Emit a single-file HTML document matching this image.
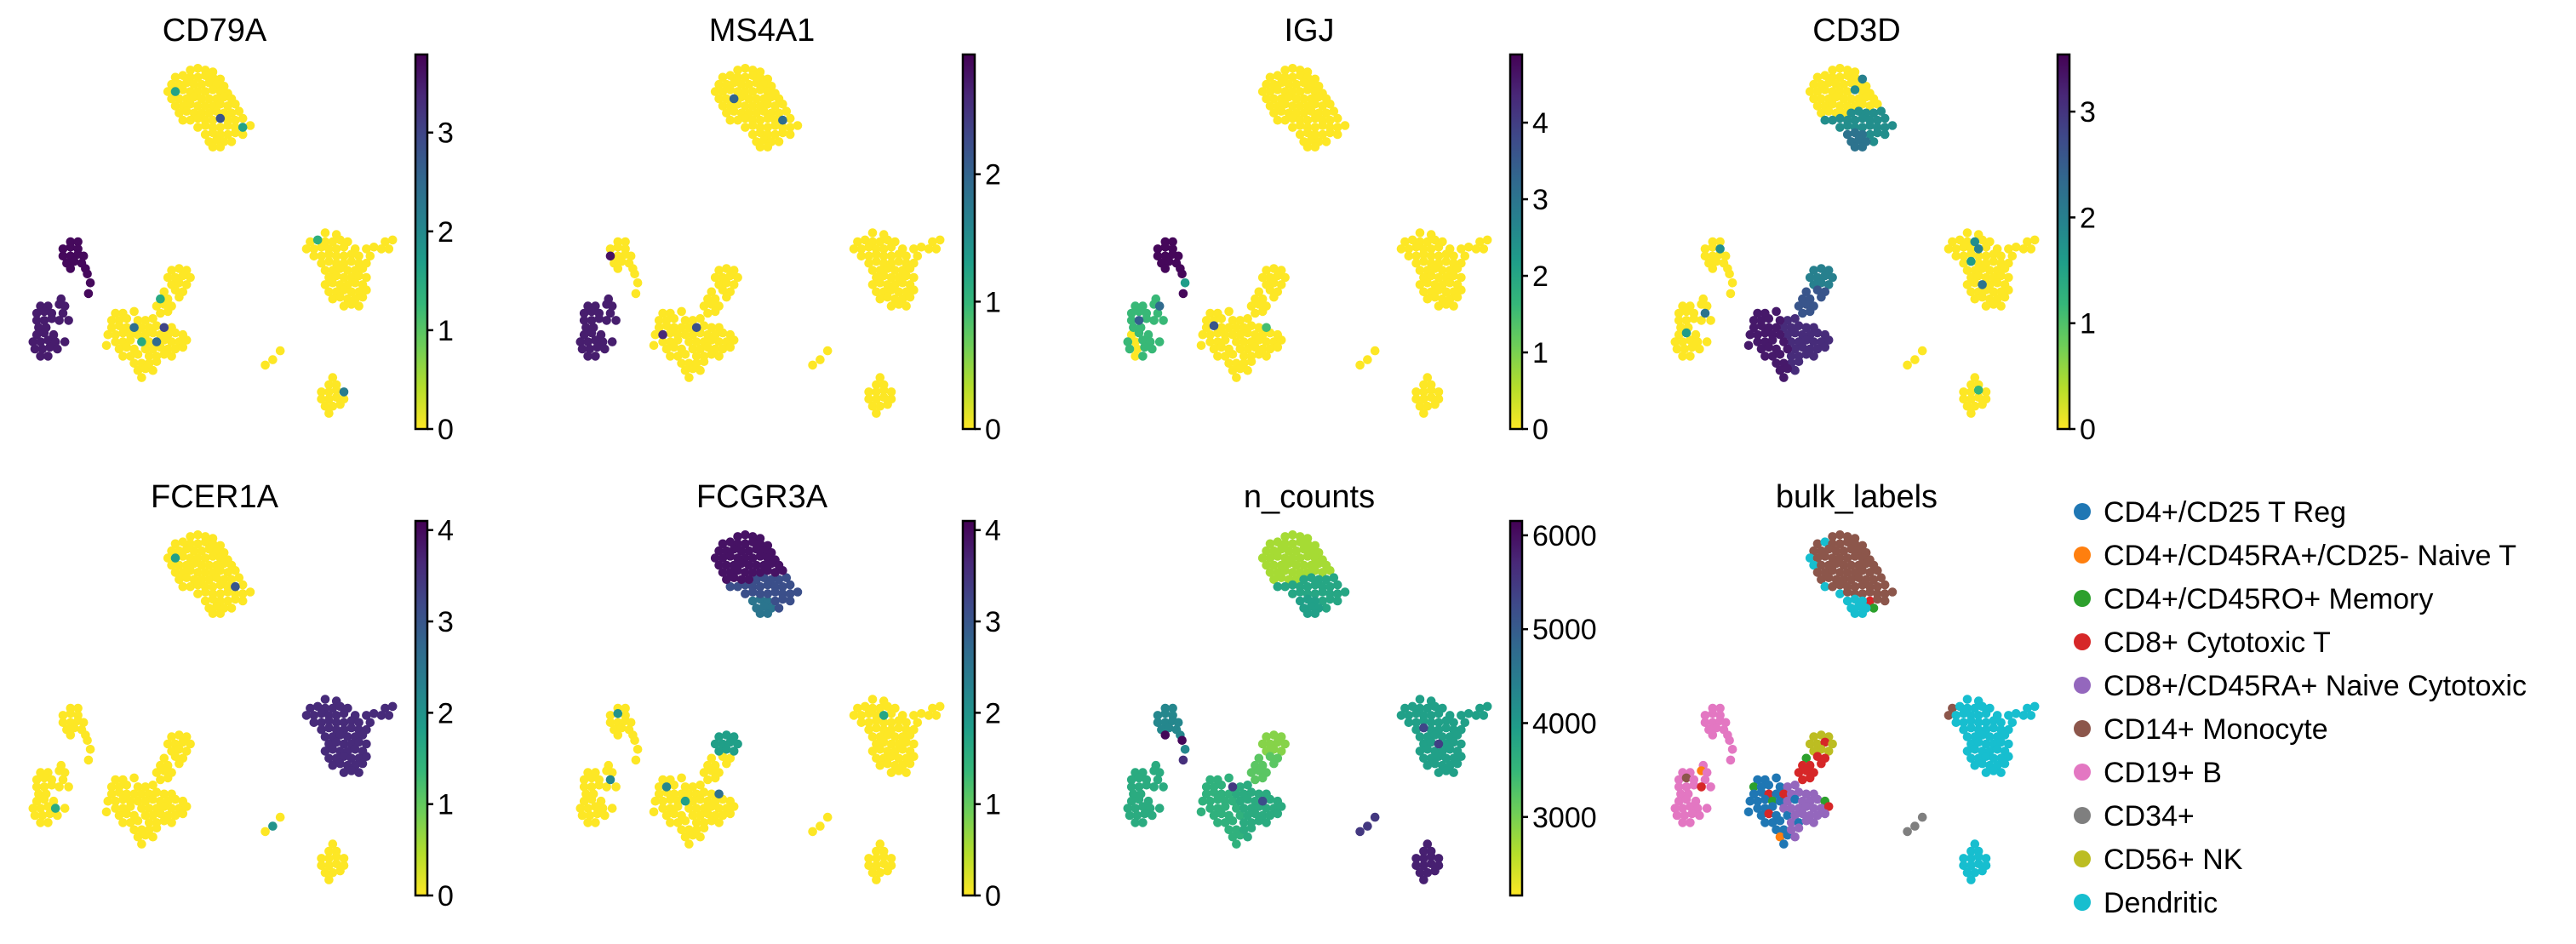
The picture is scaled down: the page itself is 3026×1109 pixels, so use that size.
<!DOCTYPE html>
<html><head><meta charset="utf-8">
<style>
html,body{margin:0;padding:0;background:#fff;}
svg{display:block;font-family:"Liberation Sans",Arial,sans-serif;}
</style></head>
<body>
<svg id="fig" width="3026" height="1109" viewBox="0 0 3026 1109" xmlns="http://www.w3.org/2000/svg"></svg>
<script>
// ---- embedding points (UMAP coordinates, 0..100 units), one array per sub-cluster ----
const ptsMonoA = [[44,98],[46,98.5],[48,98],[50,97.5],[40,96],[42,96.5],[44,96],[46,96],[48,96.5],[50,96],[52,95.5],[39,94],[41,94],[43,94.5],[45,94],[47,94],[49,94.5],[51,94],[53,93.5],[38,92],[40,92],[42,92.5],[44,92],[46,92],[48,92],[50,92.5],[52,92],[54,91.5],[39,90],[41,90],[43,90],[45,90.5],[47,90],[49,90],[51,90],[53,90.5],[55,90],[40,88],[42,88],[44,88.5],[46,88],[48,88],[50,88],[52,88.5],[54,88],[56,88.5],[41,86],[43,86.5],[45,86],[47,86]];
const ptsMonoB = [[49,86],[51,86.5],[53,86],[55,86],[57,86.5],[42,84],[44,84],[46,84.5],[48,84],[50,84],[52,84.5],[54,84],[56,84],[58,84.5],[46,82],[48,82.5],[50,82],[52,82],[54,82.5],[56,82],[58,82],[60,82.5],[54,80],[56,80.5],[58,80],[55,78]];
const ptsMonoDC = [[48,80],[50,80.5],[52,80],[49,78],[51,78.5],[53,78],[50,76.5],[52,76.5]];
const ptsDC = [[80,52.5],[83,52],[76,50],[78,50.5],[80,50],[82,50],[84,50.5],[86,50],[96,50],[98,50.5],[75,48],[77,48],[79,48.5],[81,48],[83,48],[85,48.5],[88,48],[91,48],[93,48.5],[95,48],[97,48],[77,46],[79,46],[81,46.5],[83,46],[85,46],[87,46.5],[89,46],[92,46],[79,44],[81,44.5],[83,44],[85,44],[87,44.5],[89,44],[91,44],[80,42],[82,42],[84,42.5],[86,42],[88,42],[90,42.5],[81,40],[83,40.5],[85,40],[87,40],[89,40.5],[91,40],[80,38],[82,38.5],[84,38],[86,38],[88,38.5],[90,38],[81,36],[83,36],[85,36.5],[87,36],[89,36],[91,36.5],[82,34],[84,34.5],[86,34],[88,34],[90,34.5],[85,32],[87,32.5],[89,32]];
const ptsDC2 = [[82,12],[81,10],[83,10],[79,8],[81,8],[83,8.5],[85,8],[79,6],[81,6],[83,6.5],[85,6],[80,4],[82,4],[84,4.5],[81,2]];
const ptsCD34 = [[64,15.5],[66,17],[68,19.5]];
const ptsBup = [[12,50],[14,50],[10,48],[12,48.5],[14,48],[10,46],[12,46],[14,46.5],[15.5,46],[11,44],[13,44.5],[15,44],[12,42.5],[16,42.5],[16.5,41],[17.3,38.5],[16.8,35.5]];
const ptsBlo = [[9.5,34],[4,32],[6,32],[9,32.5],[10.5,32],[3,30],[5,30.5],[7,30],[10,30],[3,28],[5,28],[7,28.5],[9,28],[11.5,28],[3.5,26],[5.5,26],[3,24],[5,24.5],[7.5,24],[2,22],[4,22],[6,22.5],[8,22],[10.5,22],[2.5,20],[4.5,20],[6.5,20.5],[8.5,20],[4,18],[6,18]];
const ptsTBlue = [[24,30],[26,30],[29,30.5],[23,28],[25,28],[27,28.5],[30,28],[23,26],[25,26.5],[27,26],[29,26],[22,24],[24,24],[26,24.5],[28,24],[30,24],[21.6,21],[24,22],[26,22],[28,22.5],[31,22],[25,20],[27,20.5],[29,20],[32,20],[26,18],[28,18],[30,18.5],[29,16],[31,16],[30,14],[32,14.5],[31,12]];
const ptsTPurple = [[32,28],[34,28.5],[31,26],[33,26],[35,26.5],[37,26],[39,26],[32,24],[34,24.5],[36,24],[38,24],[40,24.5],[42,24],[33,22],[35,22],[37,22.5],[39,22],[41,22],[43,22.5],[34,20],[36,20.5],[38,20],[40,20],[42,20.5],[33,18],[35,18],[37,18.5],[39,18],[33,16],[35,16.5],[34,14]];
const ptsNK = [[39,42],[41,42.5],[43,42],[38,40],[40,40],[42,40.5],[44,40],[39,38],[41,38.5],[43,38]];
const ptsCD8 = [[37,36],[40,36.5],[42,36],[36,34],[38,34],[41,34.5],[35,32],[37,32.5],[39,32],[36,30],[38,30.5]];
const clusterPts = [ptsMonoA, ptsMonoB, ptsMonoDC, ptsDC, ptsDC2, ptsCD34, ptsBup, ptsBlo, ptsTBlue, ptsTPurple, ptsNK, ptsCD8];

// ---- panel data ----
const panelTitles = ["CD79A","MS4A1","IGJ","CD3D","FCER1A","FCGR3A","n_counts","bulk_labels"];
const valCD79A  = [0,0,0,0,0,0,3.7,3.5,0,0,0,0];
const valMS4A1  = [0,0,0,0,0,0,0,2.7,0,0,0,0];
const valIGJ    = [0,0,0,0,0,0,4.8,1.6,0,0,0,0];
const valCD3D   = [0,1.8,2.2,0,0,0,0,0,3.3,3.1,2.0,2.6];
const valFCER1A = [0,0,0,3.6,0,0,0,0,0,0,0,0];
const valFCGR3A = [3.9,3.1,2.5,0,0,0,0,0,0,0,1.8,0];
const valNCounts= [2700,3800,3900,3900,5800,5500,4300,3700,3600,3700,2900,3200];
const panelValues = [valCD79A,valMS4A1,valIGJ,valCD3D,valFCER1A,valFCGR3A,valNCounts];
// per-point overrides: [panel, cluster, pointIndex, value]
const valueOverrides = [
  [0,8,10,2.4],[0,9,5,3.0],[0,8,20,1.5],[0,9,14,2.5],[0,11,3,1.5],[0,0,20,1.6],[0,1,10,2.8],[0,3,3,1.4],[0,4,6,2.2],[0,1,20,1.6],
  [1,0,30,2.0],[1,1,12,1.9],[1,6,5,2.8],[1,8,12,2.6],[1,9,3,2.2],
  [2,7,4,3.2],[2,7,10,3.4],[2,7,16,0],[2,7,20,0],[2,7,25,0],[2,7,28,0],[2,8,8,3.6],[2,9,6,1.5],[2,6,15,2.2],
  [3,3,5,1.8],[3,3,14,2.0],[3,3,30,1.6],[3,3,50,2.2],[3,6,4,1.8],[3,7,8,2.2],[3,7,17,1.6],[3,0,10,2.0],[3,0,25,1.8],[3,4,5,1.2],
  [4,0,20,1.8],[4,1,12,3.0],[4,7,22,1.6],[4,5,1,2.0],
  [5,8,4,2.2],[5,8,15,1.8],[5,9,6,2.6],[5,7,8,2.2],[5,6,3,2.0],[5,3,14,1.7],
  [6,6,12,6100],[6,6,14,6100],[6,6,16,5600],[6,8,6,5500],[6,9,10,5200],[6,3,30,5300],[6,3,44,5400]
];
const cbarMin = [0,0,0,0,0,0,2164];
const cbarMax = [3.79,2.94,4.89,3.54,4.1,4.1,6153];
const cbarTicks = [[0,1,2,3],[0,1,2],[0,1,2,3,4],[0,1,2,3],[0,1,2,3,4],[0,1,2,3,4],[3000,4000,5000,6000]];
const bulkOfCluster = [5,5,9,9,9,7,6,6,0,4,8,3];
// per-point bulk label overrides: [cluster, pointIndex, labelIndex]
const bulkOverrides = [[0,5,9],[0,19,9],[0,28,9],[1,5,9],[1,14,9],[1,22,3],[1,25,2],[3,2,5],[3,10,5],[7,3,1],[7,12,3],[7,6,5],
  [8,3,2],[8,9,3],[8,14,2],[8,20,4],[8,22,3],[8,30,1],[9,2,3],[9,8,0],[9,12,2],[9,18,3],[9,25,0],[11,0,2],[10,5,3]];
const legendLabels = ["CD4+/CD25 T Reg","CD4+/CD45RA+/CD25- Naive T","CD4+/CD45RO+ Memory","CD8+ Cytotoxic T","CD8+/CD45RA+ Naive Cytotoxic","CD14+ Monocyte","CD19+ B","CD34+","CD56+ NK","Dendritic"];
const legendColors = ["#1f77b4","#ff7f0e","#2ca02c","#d62728","#9467bd","#8c564b","#e377c2","#7f7f7f","#bcbd22","#17becf"];

const NS = "http://www.w3.org/2000/svg";
const svg = document.getElementById("fig");
function mk(tag, attrs, parent){ const e=document.createElementNS(NS,tag); for(const k in attrs) e.setAttribute(k,attrs[k]); (parent||svg).appendChild(e); return e; }

const vir = ["#fde725","#b5de2b","#6ece58","#35b779","#1f9e89","#26828e","#31688e","#3e4989","#482878","#440154"];
function lerpHex(a,b,t){const pa=[1,3,5].map(i=>parseInt(a.substr(i,2),16)),pb=[1,3,5].map(i=>parseInt(b.substr(i,2),16));return "rgb("+pa.map((v,i)=>Math.round(v+(pb[i]-v)*t)).join(",")+")";}
function cmap(t){t=Math.max(0,Math.min(1,t));const s=t*(vir.length-1);const i=Math.min(Math.floor(s),vir.length-2);return lerpHex(vir[i],vir[i+1],s-i);}

function xScale(col,u){ return col*643 + 30 + u*4.4; }
function yScale(row,v){ return row*548 + 494 - v*4.2; }

const defs = mk("defs",{});
for(let p=0;p<8;p++){
  const col=p%4, row=Math.floor(p/4), ox=col*643, oy=row*548;
  const g = mk("g",{});
  
  
  const t = mk("text",{x:ox+252,y:oy+48,"text-anchor":"middle","font-size":38,fill:"#000"},g);
  t.textContent = panelTitles[p];
  
  
  let list=[];
  clusterPts.forEach((pts,ci)=>pts.forEach((pt,pi)=>{
    let color, val;
    if(p<7){
      val=panelValues[p][ci];
      valueOverrides.forEach(o=>{ if(o[0]===p&&o[1]===ci&&o[2]===pi) val=o[3]; });
      color=cmap((val-cbarMin[p])/(cbarMax[p]-cbarMin[p]));
    } else {
      let lab=bulkOfCluster[ci];
      bulkOverrides.forEach(o=>{ if(o[0]===ci&&o[1]===pi) lab=o[2]; });
      val=0; color=legendColors[lab];
    }
    list.push({u:pt[0],v:pt[1],color,val});
  }));
  if(p<7) list.sort((a,b)=>a.val-b.val);
  const pg = mk("g",{},g);
  
  
  list.forEach(d=>{
    const c = mk("circle",{cx:xScale(col,d.u),cy:yScale(row,d.v),r:5.3,fill:d.color},pg);
    
    
  });
  if(p<7){
    const cx=ox+488, top=oy+64, h=440, w=14;
    const gid="grad"+p;
    const lg=mk("linearGradient",{id:gid,x1:0,y1:1,x2:0,y2:0},defs);
    vir.forEach((c,i)=>mk("stop",{offset:(i/(vir.length-1)),"stop-color":c},lg));
    const cb = mk("g",{},g);
    
    
    mk("rect",{x:cx,y:top,width:w,height:h,fill:"url(#"+gid+")",stroke:"#000","stroke-width":2.5},cb);
    cbarTicks[p].forEach(tv=>{
      const ty = top + h*(1-(tv-cbarMin[p])/(cbarMax[p]-cbarMin[p]));
      mk("line",{x1:cx+w,x2:cx+w+7,y1:ty,y2:ty,stroke:"#000","stroke-width":2.5},cb);
      const tl = mk("text",{x:cx+w+12,y:ty+12,"font-size":34,fill:"#000"},cb);
      tl.textContent = tv;
      
      
    });
  }
}
const lgG = mk("g",{});


legendLabels.forEach((lab,i)=>{
  const y = 601 + i*51;
  const e = mk("g",{},lgG);
  
  
  mk("circle",{cx:2446,cy:y,r:10,fill:legendColors[i]},e);
  const t = mk("text",{x:2471,y:y+12,"font-size":34,fill:"#000"},e);
  t.textContent = lab;
});
</script>
</body></html>
